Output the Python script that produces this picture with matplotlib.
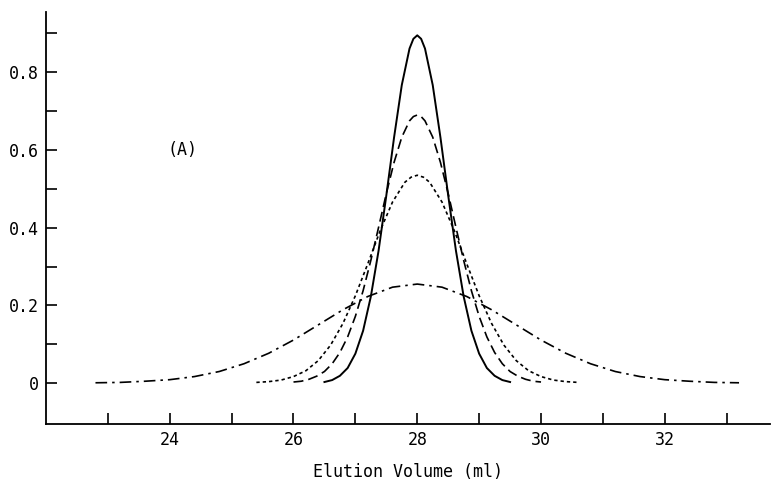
import matplotlib.pyplot as plt

plt.rcParams['font.family'] = ['DejaVu Sans Mono']

# elution profiles (absorbance vs elution volume, ml)
solid_x = [26.5, 26.625, 26.75, 26.875, 27.0, 27.125, 27.25, 27.375, 27.5, 27.625, 27.75, 27.875, 27.9375,
           28.0, 28.0625, 28.125, 28.25, 28.375, 28.5, 28.625, 28.75, 28.875, 29.0, 29.125, 29.25, 29.375, 29.5]
solid_y = [0.003, 0.008, 0.019, 0.039, 0.076, 0.135, 0.223, 0.341, 0.483, 0.632, 0.767, 0.861, 0.886,
           0.895, 0.886, 0.861, 0.767, 0.632, 0.483, 0.341, 0.223, 0.135, 0.076, 0.039, 0.019, 0.008, 0.003]

dash_x = [26.0, 26.125, 26.25, 26.375, 26.5, 26.625, 26.75, 26.875, 27.0, 27.125, 27.25, 27.375,
          27.5, 27.625, 27.75, 27.875, 27.9375, 28.0, 28.0625, 28.125, 28.25, 28.375, 28.5, 28.625, 28.75, 28.875,
          29.0, 29.125, 29.25, 29.375, 29.5, 29.625, 29.75, 29.875, 30.0]
dash_y = [0.003, 0.005, 0.010, 0.018, 0.030, 0.050, 0.079, 0.119, 0.172, 0.238, 0.316, 0.401,
          0.488, 0.568, 0.633, 0.675, 0.686, 0.690, 0.686, 0.675, 0.633, 0.568, 0.488, 0.401, 0.316, 0.238,
          0.172, 0.119, 0.079, 0.050, 0.030, 0.018, 0.010, 0.005, 0.003]

dot_x = [25.4, 25.6, 25.8, 26.0, 26.2, 26.4, 26.6, 26.8, 27.0, 27.2, 27.4, 27.6, 27.8, 27.9,
         28.0, 28.1, 28.2, 28.4, 28.6, 28.8, 29.0, 29.2, 29.4, 29.6, 29.8, 30.0, 30.2, 30.4, 30.6]
dot_y = [0.002, 0.004, 0.008, 0.017, 0.032, 0.058, 0.098, 0.154, 0.225, 0.307, 0.392, 0.466, 0.517, 0.530,
         0.535, 0.530, 0.517, 0.466, 0.392, 0.307, 0.225, 0.154, 0.098, 0.058, 0.032, 0.017, 0.008, 0.004, 0.002]

dashdot_x = [22.8, 23.2, 23.6, 24.0, 24.4, 24.8, 25.2, 25.6, 26.0, 26.4, 26.8, 27.2, 27.6,
             28.0, 28.4, 28.8, 29.2, 29.6, 30.0, 30.4, 30.8, 31.2, 31.6, 32.0, 32.4, 32.8, 33.2]
dashdot_y = [0.001, 0.002, 0.005, 0.009, 0.017, 0.030, 0.050, 0.077, 0.111, 0.150, 0.189, 0.223, 0.247,
             0.255, 0.247, 0.223, 0.189, 0.150, 0.111, 0.077, 0.050, 0.030, 0.017, 0.009, 0.005, 0.002, 0.001]

x_ticks = list(range(23, 34))
x_labels = ['', '24', '', '26', '', '28', '', '30', '', '32', '']
y_ticks = [0, 0.1, 0.2, 0.3, 0.4, 0.5, 0.6, 0.7, 0.8, 0.9]
y_labels = ['0', '', '0.2', '', '0.4', '', '0.6', '', '0.8', '']

fig = plt.figure(figsize=(7.74, 4.86), dpi=100)
ax = fig.add_axes([0.0594, 0.1276, 0.9354, 0.8477])

ax.plot(solid_x, solid_y, color='black', lw=1.4)
ax.plot(dash_x, dash_y, color='black', lw=1.2, dashes=(6, 3))
ax.plot(dot_x, dot_y, color='black', lw=1.2, dashes=(2, 1.8))
ax.plot(dashdot_x, dashdot_y, color='black', lw=1.2, dashes=(7, 3, 1.5, 3))

ax.text(24.2, 0.6, '(A)', fontsize=12, ha='center', va='center')

ax.set_xlim(22, 33.7)
ax.set_ylim(-0.105, 0.955)
ax.set_xticks(x_ticks)
ax.set_xticklabels(x_labels, fontsize=12)
ax.set_yticks(y_ticks)
ax.set_yticklabels(y_labels, fontsize=12)
ax.tick_params(direction='in', length=8, width=1.2, pad=5)
ax.set_xlabel('Elution Volume (ml)', fontsize=12, labelpad=10)

for s in ['top', 'right']:
    ax.spines[s].set_visible(False)
for s in ['left', 'bottom']:
    ax.spines[s].set_linewidth(1.3)

fig.savefig('out.png', dpi=100)
